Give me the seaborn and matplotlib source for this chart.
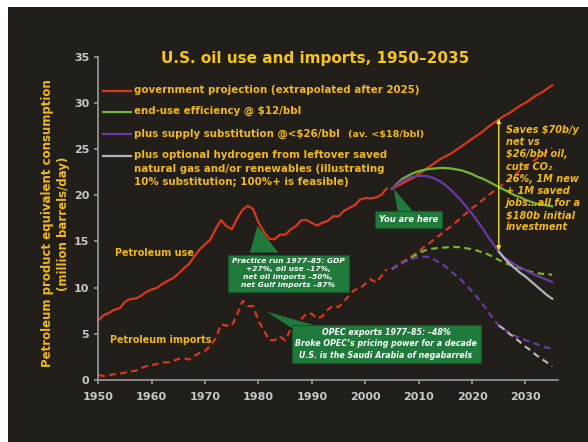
import pandas as pd
import seaborn as sns
import matplotlib.pyplot as plt
from matplotlib.patches import Rectangle, Polygon
from matplotlib.lines import Line2D

# historical data 1950-2004 (million barrels/day)
hist_years = list(range(1950, 2005))
petroleum_use = [6.46, 7.02, 7.27, 7.60, 7.76, 8.46, 8.78, 8.81, 9.12, 9.53,
                 9.80, 9.98, 10.40, 10.74, 11.02, 11.51, 12.08, 12.56, 13.39, 14.14,
                 14.70, 15.21, 16.37, 17.31, 16.65, 16.32, 17.46, 18.43, 18.85, 18.51,
                 17.06, 16.06, 15.30, 15.23, 15.73, 15.73, 16.28, 16.67, 17.28, 17.33,
                 16.99, 16.71, 17.03, 17.24, 17.72, 17.72, 18.31, 18.62, 18.92, 19.52,
                 19.70, 19.65, 19.76, 20.03, 20.73]
petroleum_imports = [0.55, 0.42, 0.52, 0.63, 0.70, 0.80, 0.94, 0.99, 1.29, 1.50,
                     1.61, 1.74, 1.91, 1.91, 2.06, 2.28, 2.37, 2.21, 2.61, 2.93,
                     3.16, 3.70, 4.52, 6.03, 5.89, 5.85, 7.09, 8.57, 8.00, 7.99,
                     6.37, 5.40, 4.30, 4.31, 4.72, 4.29, 5.44, 5.91, 6.59, 7.20,
                     7.16, 6.63, 6.94, 7.62, 8.05, 7.89, 8.50, 9.16, 9.76, 9.91,
                     10.42, 10.90, 10.55, 11.24, 12.00]

# projections 2005-2035
proj_years = list(range(2005, 2036))
gov_use = [20.7, 21.0, 21.3, 21.6, 21.9, 22.3, 22.7, 23.1, 23.5, 23.9, 24.2,
           24.5, 24.9, 25.3, 25.7, 26.1, 26.5, 26.9, 27.4, 27.8, 28.2,
           28.6, 28.9, 29.3, 29.7, 30.0, 30.4, 30.8, 31.1, 31.5, 31.9]
gov_imports = [12.0, 12.4, 12.8, 13.1, 13.5, 13.9, 14.4, 14.8, 15.3, 15.7, 16.2,
               16.6, 17.1, 17.6, 18.1, 18.6, 19.0, 19.5, 20.0, 20.4, 20.8,
               21.3, 21.7, 22.2, 22.7, 23.1, 23.5, 23.9, 24.3, 24.7, 25.1]
eff_use = [20.7, 21.3, 21.8, 22.1, 22.4, 22.6, 22.75, 22.85, 22.9, 22.95, 22.95,
           22.9, 22.8, 22.7, 22.5, 22.3, 22.0, 21.8, 21.5, 21.2, 20.9,
           20.6, 20.3, 20.0, 19.8, 19.5, 19.3, 19.1, 19.0, 18.9, 18.8]
eff_imports = [12.0, 12.4, 12.7, 13.0, 13.4, 13.7, 14.0, 14.15, 14.25, 14.3, 14.35,
               14.4, 14.4, 14.35, 14.25, 14.15, 14.0, 13.8, 13.6, 13.3, 13.0,
               12.7, 12.5, 12.3, 12.1, 11.9, 11.7, 11.6, 11.5, 11.45, 11.4]
sub_use = [20.7, 21.2, 21.6, 21.85, 22.0, 22.1, 22.1, 22.0, 21.8, 21.5, 21.1,
           20.6, 20.0, 19.4, 18.7, 18.0, 17.2, 16.4, 15.5, 14.7, 13.9,
           13.3, 12.9, 12.5, 12.2, 11.9, 11.6, 11.3, 11.1, 10.85, 10.6]
sub_imports = [12.0, 12.4, 12.7, 12.95, 13.15, 13.3, 13.35, 13.3, 13.0, 12.7, 12.3,
               11.8, 11.3, 10.8, 10.2, 9.6, 8.9, 8.2, 7.4, 6.6, 5.9,
               5.5, 5.1, 4.8, 4.55, 4.3, 4.1, 3.9, 3.7, 3.5, 3.4]
h2_years = list(range(2025, 2036))
h2_use = [13.9, 13.2, 12.6, 12.1, 11.6, 11.2, 10.7, 10.2, 9.7, 9.2, 8.8]
h2_imports = [5.9, 5.5, 5.0, 4.6, 4.1, 3.6, 3.2, 2.7, 2.3, 1.9, 1.5]

legend_labels = ["government projection (extrapolated after 2025)",
                 "end-use efficiency @ $12/bbl",
                 "plus supply substitution @<$26/bbl",
                 "plus optional hydrogen from leftover saved\nnatural gas and/or renewables (illustrating\n10% substitution; 100%+ is feasible)"]

BG = "#221e1a"
RED = "#d8381e"
GREEN = "#72b82c"
PURPLE = "#6a3aa6"
GREY = "#b4b4bc"
GOLD = "#f2b81a"
BOXGREEN = "#1f7a3c"
DASH = (0, (3, 2))

fig = plt.figure(figsize=(5.88, 4.42), dpi=100, facecolor="white")
fig.patches.append(Rectangle((8 / 588, 0), 1, 435 / 442, transform=fig.transFigure,
                             facecolor=BG, edgecolor="none", zorder=-10))
ax = fig.add_axes([98.3 / 588, 62 / 442, 459.2 / 588, 323.3 / 442])
ax.set_facecolor("none")

hist = pd.DataFrame({"year": hist_years, "use": petroleum_use, "imports": petroleum_imports})
proj = pd.DataFrame({"year": proj_years, "gov_use": gov_use, "gov_imports": gov_imports,
                     "eff_use": eff_use, "eff_imports": eff_imports,
                     "sub_use": sub_use, "sub_imports": sub_imports})
h2 = pd.DataFrame({"year": h2_years, "use": h2_use, "imports": h2_imports})

kw = dict(ax=ax, estimator=None, sort=False, lw=1.6)
sns.lineplot(data=hist, x="year", y="use", color=RED, **kw)
sns.lineplot(data=hist, x="year", y="imports", color=RED, linestyle=DASH, **kw)
sns.lineplot(data=proj, x="year", y="gov_use", color=RED, **kw)
sns.lineplot(data=proj, x="year", y="gov_imports", color=RED, linestyle=DASH, **kw)
sns.lineplot(data=proj, x="year", y="eff_use", color=GREEN, **kw)
sns.lineplot(data=proj, x="year", y="eff_imports", color=GREEN, linestyle=DASH, **kw)
sns.lineplot(data=proj, x="year", y="sub_use", color=PURPLE, **kw)
sns.lineplot(data=proj, x="year", y="sub_imports", color=PURPLE, linestyle=DASH, **kw)
sns.lineplot(data=h2, x="year", y="use", color=GREY, **kw)
sns.lineplot(data=h2, x="year", y="imports", color=GREY, linestyle=DASH, **kw)

ax.set_xlim(1950, 2036)
ax.set_ylim(0, 35)
ax.set_xticks(range(1950, 2031, 10))
ax.set_yticks(range(0, 36, 5))
for s in ["top", "right"]:
    ax.spines[s].set_visible(False)
for s in ["left", "bottom"]:
    ax.spines[s].set_color("#9a9a9a")
    ax.spines[s].set_linewidth(1.2)
ax.tick_params(colors="#9a9a9a", length=3, width=1.2, labelcolor="#c8c8c8", labelsize=8)
ax.tick_params(axis="x", pad=6)
for lab in ax.get_xticklabels() + ax.get_yticklabels():
    lab.set_fontweight("bold")
ax.set_xlabel("")
ax.set_ylabel("Petroleum product equivalent consumption\n(million barrels/day)",
              color=GOLD, fontsize=8.5, fontweight="bold", linespacing=1.3)
ax.yaxis.set_label_coords(-0.062, 0.484)

fig.text(315 / 588, 1 - 58 / 442, "U.S. oil use and imports, 1950\u20132035",
         color="#f5c518", fontsize=11, fontweight="bold", ha="center", va="center")

# legend, drawn by hand to keep the multi-line entry aligned on its first line
leg_y = [0.8948, 0.8299, 0.7609, 0.6929]
for c, y, lab in zip([RED, GREEN, PURPLE, GREY], leg_y, legend_labels):
    ax.add_line(Line2D([0.0096, 0.0702], [y, y], transform=ax.transAxes, color=c, lw=1.6))
    ax.text(0.0784, y + 0.017, lab, transform=ax.transAxes, color=GOLD, fontsize=7.4,
            fontweight="bold", va="top", linespacing=1.38)
ax.text(0.5438, leg_y[2], "(av. <$18/bbl)", transform=ax.transAxes, color=GOLD,
        fontsize=6.8, fontweight="bold", va="center")

ax.text(1960.6, 13.7, "Petroleum use", color=GOLD, fontsize=6.9, fontweight="bold",
        ha="center", va="center")
ax.text(1961.7, 4.33, "Petroleum imports", color=GOLD, fontsize=6.9, fontweight="bold",
        ha="center", va="center")

# green callouts
ax.add_patch(Polygon([(1979.8, 16.7), (1978.4, 13.8), (1983.7, 13.8)], closed=True,
                     fc=BOXGREEN, ec="none", zorder=3))
ax.text(1985.6, 11.55, "Practice run 1977\u201385: GDP\n+27%, oil use \u201317%,\n"
        "net oil imports \u201350%,\nnet Gulf imports \u201387%", color="white",
        fontsize=5.4, fontweight="bold", style="italic", ha="center", va="center",
        linespacing=1.38, zorder=4,
        bbox=dict(boxstyle="square,pad=0.5", fc=BOXGREEN, ec="#15552a", lw=0.8))

ax.add_patch(Polygon([(2005.3, 20.7), (2006.2, 18.0), (2009.3, 18.0)], closed=True,
                     fc=BOXGREEN, ec="none", zorder=3))
ax.text(2008.05, 17.35, "You are here", color="white", fontsize=6, fontweight="bold",
        style="italic", ha="center", va="center",
        bbox=dict(boxstyle="square,pad=0.45", fc=BOXGREEN, ec="#15552a", lw=0.8), zorder=4)

ax.add_patch(Polygon([(1981.5, 7.4), (1986.3, 5.6), (1992.5, 5.6)], closed=True,
                     fc=BOXGREEN, ec="none", zorder=3))
ax.text(2003.9, 3.9, "OPEC exports 1977\u201385: \u201348%\nBroke OPEC\u2019s pricing power for a decade\n"
        "U.S. is the Saudi Arabia of negabarrels", color="white", fontsize=5.7,
        fontweight="bold", style="italic", ha="center", va="center", linespacing=1.3,
        bbox=dict(boxstyle="square,pad=0.45", fc=BOXGREEN, ec="#15552a", lw=0.8), zorder=4)

# savings arrow at 2025
ax.annotate("", xy=(2025, 28.3), xytext=(2025, 14.0),
            arrowprops=dict(arrowstyle="<|-|>", color="#f5e030", lw=1.0,
                            mutation_scale=6, shrinkA=0, shrinkB=0))
ax.text(2026.3, 27.6, "Saves $70b/y\nnet vs\n$26/bbl oil,\ncuts CO\u2082\n26%, 1M new\n"
        "+ 1M saved\njobs\u2026all for a\n$180b initial\ninvestment", color=GOLD,
        fontsize=7, fontweight="bold", style="italic", ha="left", va="top",
        linespacing=1.27, zorder=5)

fig.savefig("out.png", dpi=100, facecolor=fig.get_facecolor())
